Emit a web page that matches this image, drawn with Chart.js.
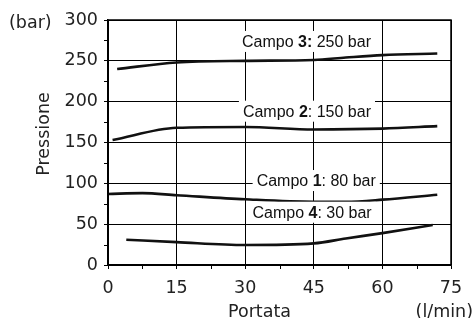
<!DOCTYPE html>
<html>
<head>
<meta charset="utf-8">
<script src="https://cdn.jsdelivr.net/npm/chart.js@4.4.1/dist/chart.umd.min.js"></script>
<style>
  html, body { margin: 0; padding: 0; background: #fff; }
  #wrap { width: 473px; height: 318px; }
</style>
</head>
<body>
<div id="wrap"><canvas id="myChart" width="473" height="318"></canvas></div>
<script>
// portata (l/min) / pressione (bar)
var campo3X = [2, 15, 30, 45, 52, 60, 72];
var campo3Y = [240, 248, 250, 251, 254, 257, 259];
var campo2X = [1, 15, 30, 45, 60, 72];
var campo2Y = [153, 168, 169, 166, 167, 170];
var campo1X = [0, 7.5, 15, 30, 45, 52, 60, 72];
var campo1Y = [87, 88, 85.5, 80.5, 77.5, 77.5, 80, 86];
var campo4X = [4, 15, 30, 45, 52, 60, 71];
var campo4Y = [31, 28, 24.5, 26.5, 32.5, 39, 49];

var xTicks = [0, 15, 30, 45, 60, 75];
var yTicks = [0, 50, 100, 150, 200, 250, 300];

// label text: [normal, bold, normal]
var labelParts = [
    ['Campo ', '3:', ' 250 bar'],
    ['Campo ', '2', ': 150 bar'],
    ['Campo ', '1', ': 80 bar'],
    ['Campo ', '4', ': 30 bar']
];
// where each label starts (left edge, baseline) in data units
var labelAt = [[29.3, 267], [29.5, 181.6], [32.5, 96.7], [31.6, 57.9]];

function pts(xs, ys) {
    return xs.map(function(x, i) { return { x: x, y: ys[i] }; });
}

function curve(xs, ys) {
    return {
        data: pts(xs, ys),
        borderColor: '#111',
        borderWidth: 2.6,
        pointRadius: 0,
        fill: false,
        tension: 0.4,
        cubicInterpolationMode: 'monotone'
    };
}

var tickFont = { family: 'DejaVu Sans', size: 17.5 };

var extras = {
    id: 'extras',
    afterDraw: function(chart) {
        var ctx = chart.ctx;
        var a = chart.chartArea;
        var xs = chart.scales.x, ys = chart.scales.y;
        ctx.save();

        // minor ticks
        ctx.strokeStyle = '#000';
        ctx.lineWidth = 1;
        ctx.beginPath();
        for (var v = 7.5; v < 75; v += 15) {
            var px = Math.round(xs.getPixelForValue(v)) + 0.5;
            ctx.moveTo(px, a.bottom);
            ctx.lineTo(px, a.bottom + 4);
        }
        for (var w = 25; w < 300; w += 50) {
            var py = Math.round(ys.getPixelForValue(w)) + 0.5;
            ctx.moveTo(a.left, py);
            ctx.lineTo(a.left - 4, py);
        }
        ctx.stroke();

        // frame
        ctx.lineWidth = 1.5;
        ctx.strokeRect(a.left, a.top, a.right - a.left, a.bottom - a.top);

        // curve labels with white boxes
        ctx.textBaseline = 'alphabetic';
        ctx.textAlign = 'left';
        labelParts.forEach(function(parts, i) {
            var x0 = xs.getPixelForValue(labelAt[i][0]);
            var y0 = ys.getPixelForValue(labelAt[i][1]);
            var fonts = ['16px "Liberation Sans"', 'bold 16px "Liberation Sans"', '16px "Liberation Sans"'];
            var widths = parts.map(function(p, j) { ctx.font = fonts[j]; return ctx.measureText(p).width; });
            var total = widths[0] + widths[1] + widths[2];
            ctx.fillStyle = '#fff';
            ctx.fillRect(x0 - 4, y0 - 16, total + 8, 21);
            ctx.fillStyle = '#111';
            var cx = x0;
            parts.forEach(function(p, j) {
                ctx.font = fonts[j];
                ctx.fillText(p, cx, y0);
                cx += widths[j];
            });
        });

        // axis titles
        ctx.fillStyle = '#222';
        ctx.font = '17.5px "DejaVu Sans"';
        ctx.textBaseline = 'middle';
        ctx.textAlign = 'left';
        ctx.fillText('(bar)', 9, 23);
        ctx.fillText('Portata', 228, 312);
        ctx.textAlign = 'right';
        ctx.fillText('(l/min)', 473, 312);
        ctx.save();
        ctx.translate(44, 134);
        ctx.rotate(-Math.PI / 2);
        ctx.textAlign = 'center';
        ctx.fillText('Pressione', 0, 0);
        ctx.restore();

        ctx.restore();
    }
};

var ctx = document.getElementById('myChart').getContext('2d');
var myChart = new Chart(ctx, {
    type: 'line',
    data: {
        datasets: [
            curve(campo3X, campo3Y),
            curve(campo2X, campo2Y),
            curve(campo1X, campo1Y),
            curve(campo4X, campo4Y)
        ]
    },
    options: {
        responsive: false,
        animation: false,
        layout: { padding: { top: 20, right: 22, left: 0, bottom: 0 } },
        plugins: { legend: { display: false }, tooltip: { enabled: false } },
        scales: {
            x: {
                type: 'linear',
                min: 0,
                max: 75,
                afterBuildTicks: function(s) { s.ticks = xTicks.map(function(v) { return { value: v }; }); },
                afterFit: function(s) { s.height = 53; },
                ticks: { font: tickFont, color: '#222', padding: 9, maxRotation: 0 },
                grid: { color: '#000', lineWidth: 1, tickLength: 4 },
                border: { display: true, color: '#000', width: 1.5 }
            },
            y: {
                min: 0,
                max: 300,
                afterBuildTicks: function(s) { s.ticks = yTicks.map(function(v) { return { value: v }; }); },
                afterFit: function(s) { s.width = 108; },
                ticks: { font: tickFont, color: '#222', padding: 6 },
                grid: { color: '#000', lineWidth: 1, tickLength: 4 },
                border: { display: true, color: '#000', width: 1.5 }
            }
        }
    },
    plugins: [extras]
});
</script>
</body>
</html>
